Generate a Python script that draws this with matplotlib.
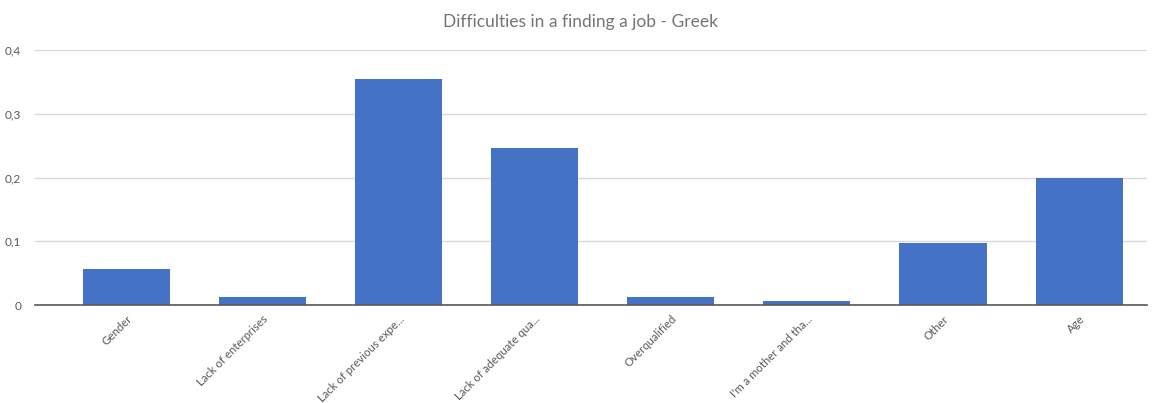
import matplotlib
matplotlib.use("Agg")
import matplotlib.pyplot as plt
from matplotlib.ticker import FixedLocator, FuncFormatter

categories = [
    "Gender",
    "Lack of enterprises",
    "Lack of previous expe...",
    "Lack of adequate qua...",
    "Overqualified",
    "I'm a mother and tha...",
    "Other",
    "Age",
]
values = [0.056, 0.013, 0.354, 0.246, 0.013, 0.006, 0.098, 0.199]
y_ticks = [0, 0.1, 0.2, 0.3, 0.4]

plt.rcParams["font.family"] = ["Lato", "DejaVu Sans"]

fig = plt.figure(figsize=(11.61, 4.03), dpi=100)
ax = fig.add_axes([0.0301, 0.243, 0.958, 0.633])

x = list(range(len(categories)))
ax.bar(x, values, width=0.64, color="#4472C4", zorder=3)

ax.set_xlim(-0.67, 7.5)
ax.set_ylim(0, 0.4)
ax.yaxis.set_major_locator(FixedLocator(y_ticks))
ax.yaxis.set_major_formatter(FuncFormatter(lambda v, p: "0" if v == 0 else f"{v:.1f}".replace(".", ",")))
ax.grid(axis="y", color="#d9d9d9", linewidth=1, zorder=0)
ax.set_axisbelow(True)

for s in ["top", "right", "left"]:
    ax.spines[s].set_visible(False)
ax.spines["bottom"].set_color("#595959")
ax.spines["bottom"].set_linewidth(1.2)
ax.spines["bottom"].set_zorder(4)

ax.tick_params(axis="y", length=0, labelsize=8.5, labelcolor="#595959", pad=10)
ax.tick_params(axis="x", length=0, labelsize=8.2, labelcolor="#595959", pad=6)
ax.set_xticks(x)
ax.set_xticklabels(categories, rotation=45, ha="right", rotation_mode="anchor")

fig.text(0.5, 0.945, "Difficulties in a finding a job - Greek", ha="center", va="center",
         fontsize=12.5, color="#757575")

fig.savefig("out.png", dpi=100, facecolor="white")
